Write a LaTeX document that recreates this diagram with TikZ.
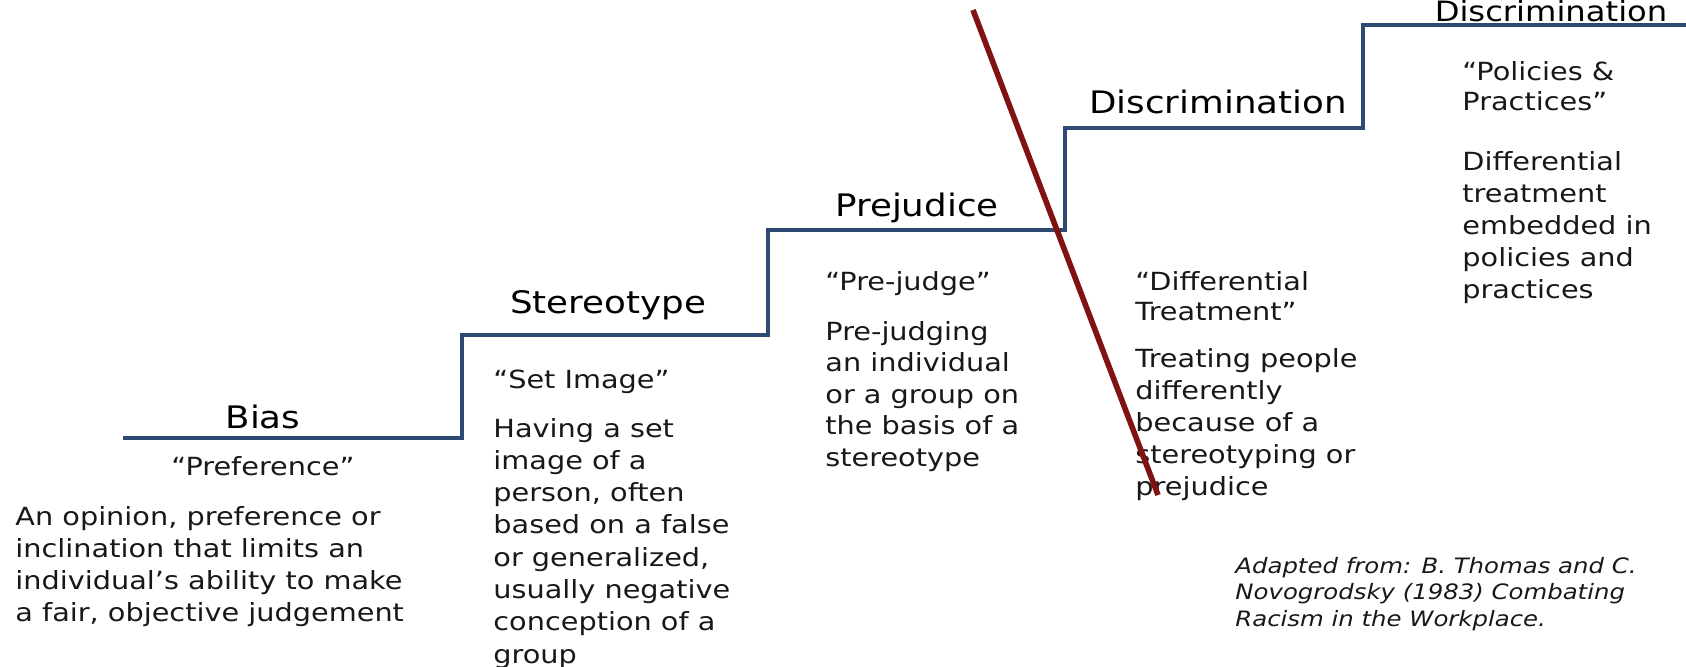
\documentclass[tikz,border=0pt]{standalone}
\usepackage{fontspec}
\setmainfont{DejaVu Sans}[FakeStretch=1.15]
\usepackage{tikz}

\definecolor{stairblue}{RGB}{44,74,114}
\definecolor{cutred}{RGB}{128,18,20}
\definecolor{inkgray}{RGB}{24,24,24}

\tikzset{
  stair/.style={stairblue,line width=1.6pt,line join=miter},
  cutline/.style={cutred,line width=2.8pt},
  head/.style={anchor=base,inner sep=0pt,font=\fontsize{15.5}{18}\selectfont,text=black},
  body/.style={anchor=base west,inner sep=0pt,font=\fontsize{12.5}{16}\selectfont,text=inkgray},
  cite/.style={anchor=base west,inner sep=0pt,font=\fontsize{10.6}{13.5}\selectfont\itshape,text=inkgray}
}

\begin{document}
\begin{tikzpicture}[x=0.5pt,y=-0.5pt]
\useasboundingbox (0,0) rectangle (1686,666);

% the staircase
\coordinate (s0) at (123,438);
\coordinate (s1) at (462,438);
\coordinate (s2) at (462,335);
\coordinate (s3) at (768,335);
\coordinate (s4) at (768,230);
\coordinate (s5) at (1065,230);
\coordinate (s6) at (1065,128);
\coordinate (s7) at (1363,128);
\coordinate (s8) at (1363,25);
\coordinate (s9) at (1686,25);
\draw[stair] (s0) \foreach \i in {1,...,9}{ -- (s\i)};

% step titles
\node[head] (bias) at (263,428) {Bias};
\node[head] (stereo) at (608,313) {Stereotype};
\node[head] (prej) at (917,216) {Prejudice};
\node[head] (discr) at (1218,113) {Discrimination};
\node[head,font=\fontsize{14}{16}\selectfont] (sysdiscr) at (1551,21) {Discrimination};

% quoted keywords
\node[body,anchor=base] (bias-q) at (263,475) {“Preference”};
\node[body] (stereo-q) at (493,388) {“Set Image”};
\node[body] (prej-q) at (825,290) {“Pre-judge”};
\foreach \t [count=\i from 0] in {“Differential,Treatment”}
  \node[body] (discr-q\i) at (1135,290+\i*30) {\t};
\foreach \t [count=\i from 0] in {“Policies \&,Practices”}
  \node[body] (sysdiscr-q\i) at (1462,80+\i*30) {\t};

% definitions
\foreach \t [count=\i from 0] in {{An opinion, preference or},inclination that limits an,
    individual’s ability to make,{a fair, objective judgement}}
  \node[body] (bias-\i) at (15,525+\i*32.3) {\t};
\foreach \t [count=\i from 0] in {Having a set,image of a,{person, often},based on a false,
    {or generalized,},usually negative,conception of a,group}
  \node[body] (stereo-\i) at (493,437+\i*32.3) {\t};
\foreach \t [count=\i from 0] in {Pre-judging,an individual,or a group on,the basis of a,stereotype}
  \node[body] (prej-\i) at (825,340+\i*31.5) {\t};
\foreach \t [count=\i from 0] in {Treating people,differently,because of a,stereotyping or,prejudice}
  \node[body] (discr-\i) at (1135,367+\i*32) {\t};
\foreach \t [count=\i from 0] in {Differential,treatment,embedded in,policies and,practices}
  \node[body] (sysdiscr-\i) at (1462,170+\i*32) {\t};

% source
\foreach \t [count=\i from 0] in {Adapted from: B. Thomas and C.,Novogrodsky (1983) Combating,
    Racism in the Workplace.}
  \node[cite] (src-\i) at (1235,573+\i*26.5) {\t};

% the red cut
\coordinate (cut-top) at (973,10);
\coordinate (cut-bot) at (1158,495);
\draw[cutline] (cut-top) -- (cut-bot);
\end{tikzpicture}
\end{document}
